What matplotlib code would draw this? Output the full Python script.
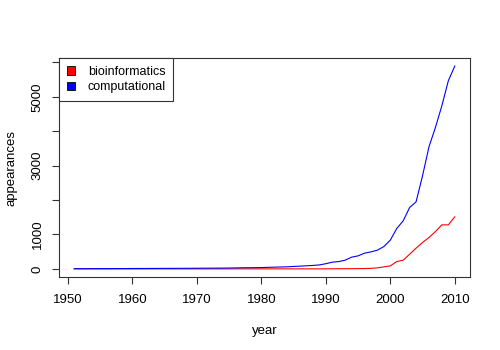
import numpy as np
import matplotlib
matplotlib.use('Agg')
import matplotlib.pyplot as plt
from matplotlib.patches import Patch

plt.rcParams['font.family'] = ['Liberation Sans', 'DejaVu Sans']

# yearly counts of the two words
years = list(range(1951, 2011))
computational = [5, 6, 6, 7, 8, 8, 9, 10, 10, 11,
                 12, 12, 13, 14, 15, 15, 16, 17, 18, 19,
                 20, 21, 22, 23, 25, 28, 32, 34, 36, 38,
                 45, 50, 55, 60, 70, 80, 90, 100, 115, 150,
                 195, 212, 253, 340, 378, 456, 494, 543, 648, 834,
                 1172, 1395, 1782, 1948, 2703, 3546, 4108, 4740, 5465, 5890]
bioinformatics = [0] * 25 + [1] * 15 + \
                 [3, 4, 5, 6, 8, 10, 15, 29, 58, 87,
                  212, 253, 427, 602, 766, 911, 1085, 1279, 1279, 1512]
series_names = ['bioinformatics', 'computational']
series_colors = ['#FF0000', '#0000FF']

x_ticks = list(range(1950, 2011, 10))
y_ticks = list(range(0, 7000, 1000))
y_labels = ['0', '1000', '', '3000', '', '5000', '']

fig = plt.figure(figsize=(5, 3.5), dpi=100)
ax = fig.add_axes([59 / 500, 1 - 277 / 350, 411 / 500, 219 / 350])

ax.plot(years, bioinformatics, color=series_colors[0], lw=0.8)
ax.plot(years, computational, color=series_colors[1], lw=0.8)

# R style 4% padding around the data range
xr = years[-1] - years[0]
ax.set_xlim(years[0] - 0.04 * xr, years[-1] + 0.04 * xr)
ymin = min(min(computational), min(bioinformatics))
ymax = max(max(computational), max(bioinformatics))
yr = ymax - ymin
ax.set_ylim(ymin - 0.04 * yr, ymax + 0.04 * yr)

ax.set_xticks(x_ticks)
ax.set_yticks(y_ticks)
ax.set_yticklabels(y_labels, rotation=90, va='center')
ax.tick_params(axis='both', length=5, width=0.8, labelsize=9.5, color='#333333')
ax.tick_params(axis='x', pad=7)
ax.tick_params(axis='y', pad=6)
for sp in ax.spines.values():
    sp.set_linewidth(0.8)
    sp.set_color('#333333')

ax.set_xlabel('year', fontsize=9.5)
ax.set_ylabel('appearances', fontsize=9.5)
ax.xaxis.set_label_coords(0.5, -0.218)
ax.yaxis.set_label_coords(-0.1, 0.5)

handles = [Patch(facecolor=c, edgecolor='black', lw=0.6) for c in series_colors]
leg = ax.legend(handles, series_names, loc='upper left', bbox_to_anchor=(0, 1),
                borderaxespad=0, fancybox=False, framealpha=1, edgecolor='#333333',
                fontsize=9, handlelength=0.7, handleheight=0.7, handletextpad=1.0,
                labelspacing=0.3, borderpad=0.6)
leg.get_frame().set_linewidth(0.8)

fig.savefig('out.png', dpi=100)
